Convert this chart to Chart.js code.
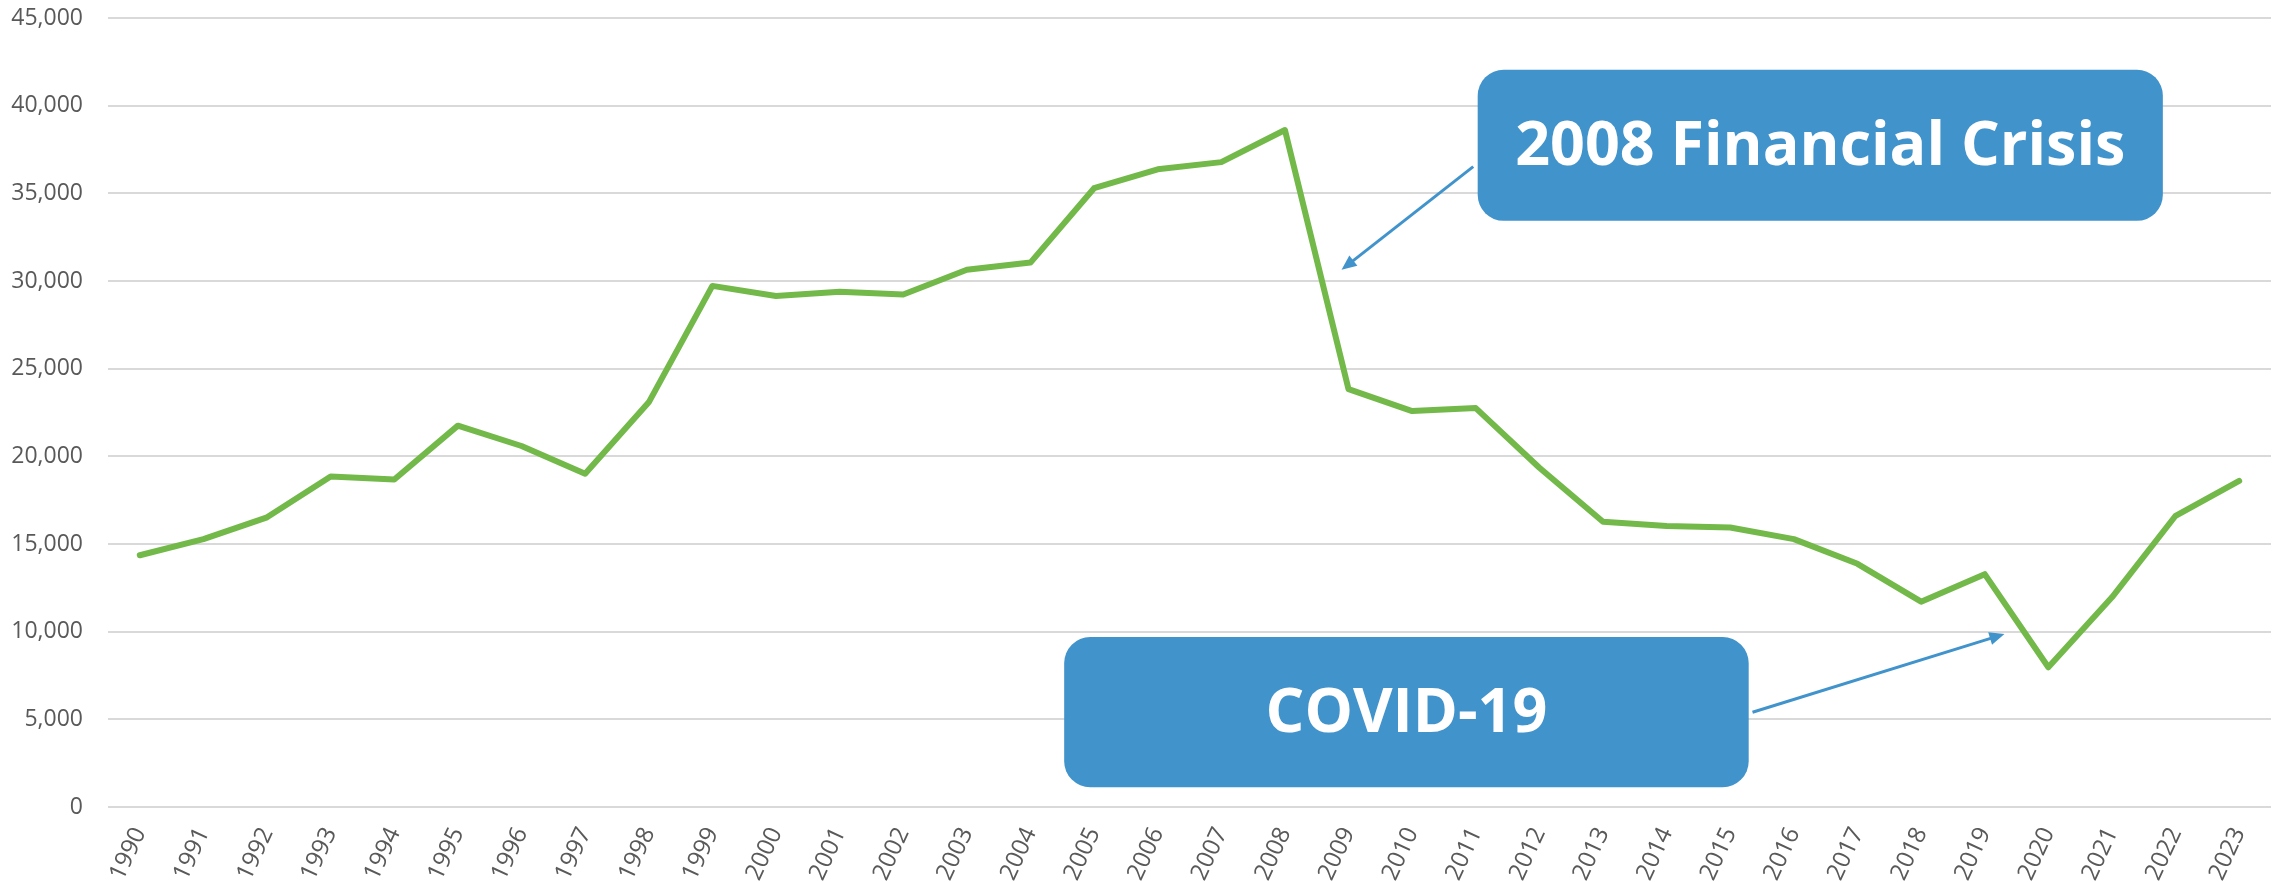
<!DOCTYPE html>
<html>
<head>
<meta charset="utf-8">
<script src="https://cdn.jsdelivr.net/npm/chart.js@4.4.1/dist/chart.umd.min.js"></script>
<style>
  html, body { margin: 0; padding: 0; background: #fff; }
</style>
</head>
<body>
<canvas id="chart" width="2280" height="882"></canvas>
<script>
// data
const years = ['1990','1991','1992','1993','1994','1995','1996','1997','1998','1999',
  '2000','2001','2002','2003','2004','2005','2006','2007','2008','2009',
  '2010','2011','2012','2013','2014','2015','2016','2017','2018','2019',
  '2020','2021','2022','2023'];
const values = [14360, 15280, 16520, 18850, 18680, 21750, 20590, 19010, 23080, 29720,
  29140, 29390, 29230, 30640, 31050, 35290, 36370, 36780, 38610, 23830,
  22580, 22750, 19350, 16270, 16020, 15940, 15280, 13870, 11710, 13280,
  7970, 11960, 16610, 18600];
const yMin = 0, yMax = 45000, yStep = 5000;

// callouts, placed in data units (x = category index, y = value)
const callouts = [
  { text: '2008 Financial Crisis', box: [21.03, 42050, 31.8, 33430], arrow: [20.96, 36520, 18.89, 30640] },
  { text: 'COVID-19', box: [14.53, 9690, 25.29, 1130], arrow: [25.35, 5405, 29.31, 9860] }
];

const FONT = "'Open Sans', 'Noto Sans', sans-serif";
const BLUE = '#4193CC';

const calloutPlugin = {
  id: 'callouts',
  afterDatasetsDraw(chart) {
    const ctx = chart.ctx;
    const xs = chart.scales.x, ys = chart.scales.y;
    ctx.save();
    callouts.forEach(c => {
      // arrow
      const ax1 = xs.getPixelForValue(c.arrow[0]), ay1 = ys.getPixelForValue(c.arrow[1]);
      const ax2 = xs.getPixelForValue(c.arrow[2]), ay2 = ys.getPixelForValue(c.arrow[3]);
      const ang = Math.atan2(ay2 - ay1, ax2 - ax1);
      const head = 15, hw = 6.5;
      ctx.strokeStyle = BLUE;
      ctx.fillStyle = BLUE;
      ctx.lineWidth = 3;
      ctx.beginPath();
      ctx.moveTo(ax1, ay1);
      ctx.lineTo(ax2 - Math.cos(ang) * head * 0.8, ay2 - Math.sin(ang) * head * 0.8);
      ctx.stroke();
      ctx.beginPath();
      ctx.moveTo(ax2, ay2);
      ctx.lineTo(ax2 - Math.cos(ang) * head - Math.sin(ang) * hw, ay2 - Math.sin(ang) * head + Math.cos(ang) * hw);
      ctx.lineTo(ax2 - Math.cos(ang) * head + Math.sin(ang) * hw, ay2 - Math.sin(ang) * head - Math.cos(ang) * hw);
      ctx.closePath();
      ctx.fill();

      // box
      const bx1 = xs.getPixelForValue(c.box[0]), by1 = ys.getPixelForValue(c.box[1]);
      const bx2 = xs.getPixelForValue(c.box[2]), by2 = ys.getPixelForValue(c.box[3]);
      ctx.beginPath();
      ctx.roundRect(bx1, by1, bx2 - bx1, by2 - by1, 26);
      ctx.fill();
      ctx.fillStyle = '#ffffff';
      ctx.font = 'bold 61px ' + FONT;
      ctx.textAlign = 'center';
      ctx.textBaseline = 'middle';
      ctx.fillText(c.text, (bx1 + bx2) / 2, (by1 + by2) / 2 + 2);
    });
    ctx.restore();
  }
};

new Chart(document.getElementById('chart'), {
  type: 'line',
  data: {
    labels: years,
    datasets: [{
      data: values,
      borderColor: '#72B94A',
      borderWidth: 6,
      pointRadius: 0,
      tension: 0,
      borderCapStyle: 'round',
      borderJoinStyle: 'round',
      fill: false
    }]
  },
  options: {
    responsive: false,
    devicePixelRatio: 1,
    animation: false,
    layout: { padding: { top: 0, right: 9, left: 0, bottom: 0 } },
    plugins: {
      legend: { display: false },
      tooltip: { enabled: false }
    },
    scales: {
      x: {
        offset: true,
        grid: { display: false },
        border: { display: false },
        ticks: {
          color: '#595959',
          font: { family: FONT, size: 24 },
          minRotation: 65,
          maxRotation: 65,
          autoSkip: false,
          padding: 8
        },
        afterFit(scale) { scale.height = 75; }
      },
      y: {
        min: yMin,
        max: yMax,
        border: { display: false },
        grid: { color: '#D9D9D9', lineWidth: 2, drawTicks: false },
        ticks: {
          stepSize: yStep,
          color: '#595959',
          font: { family: FONT, size: 23 },
          padding: 25,
          callback: v => v.toLocaleString('en-US')
        },
        afterFit(scale) {
          scale.width = 108;
          scale.paddingTop = 18;
          scale.paddingBottom = 0;
        }
      }
    }
  },
  plugins: [calloutPlugin]
});
</script>
</body>
</html>
